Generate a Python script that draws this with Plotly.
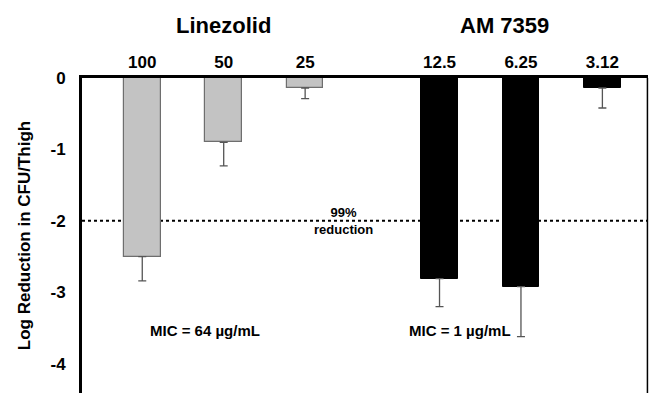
import plotly.graph_objects as go

# Data
groups = ["Linezolid", "AM 7359"]
linezolid_doses = ["100", "50", "25"]
linezolid_values = [-2.50, -0.90, -0.14]
linezolid_errors = [0.34, 0.33, 0.15]
am_doses = ["12.5", "6.25", "3.12"]
am_values = [-2.81, -2.92, -0.14]
am_errors = [0.39, 0.70, 0.28]
y_ticks = [0, -1, -2, -3, -4]
y_tick_labels = ["0", "-1", "-2", "-3", "-4"]
mic_labels = ["MIC = 64 µg/mL", "MIC = 1 µg/mL"]
threshold = -2
threshold_label = "99%<br>reduction"

group_gap = 0.65
x_lz = [i for i in range(len(linezolid_doses))]
x_am = [len(linezolid_doses) + group_gap + i for i in range(len(am_doses))]

FONT = "Liberation Sans, Arial, sans-serif"

fig = go.Figure()
fig.add_trace(go.Bar(
    x=x_lz, y=linezolid_values, width=0.45,
    marker=dict(color="#c3c3c3", line=dict(color="#6e6e6e", width=1.2)),
    error_y=dict(type="data", symmetric=False, array=[0] * 3, arrayminus=linezolid_errors,
                 color="#555555", thickness=1.3, width=4),
    showlegend=False,
))
fig.add_trace(go.Bar(
    x=x_am, y=am_values, width=0.45,
    marker=dict(color="black", line=dict(color="black", width=1)),
    error_y=dict(type="data", symmetric=False, array=[0] * 3, arrayminus=am_errors,
                 color="#555555", thickness=1.3, width=4),
    showlegend=False,
))

# threshold line
fig.add_shape(type="line", xref="paper", x0=0, x1=1, yref="y", y0=threshold, y1=threshold,
              line=dict(color="black", width=2, dash="dot"), layer="below")
# right border
fig.add_shape(type="line", xref="paper", x0=0.999, x1=0.999, yref="paper", y0=0, y1=1,
              line=dict(color="black", width=1.5))

fig.add_annotation(x=2.47, y=threshold, text=threshold_label, showarrow=False,
                   font=dict(family=FONT, size=13, color="black", weight="bold"),
                   xanchor="center", yanchor="middle")

# group headers
fig.add_annotation(x=sum(x_lz) / 3, y=1, yref="paper", yshift=53, yanchor="middle",
                   text=groups[0], showarrow=False,
                   font=dict(family=FONT, size=22, color="black", weight="bold"))
fig.add_annotation(x=sum(x_am) / 3 - 0.2, y=1, yref="paper", yshift=53, yanchor="middle",
                   text=groups[1], showarrow=False,
                   font=dict(family=FONT, size=22, color="black", weight="bold"))

# MIC labels
fig.add_annotation(x=0.77, y=-3.54, text=mic_labels[0], showarrow=False,
                   font=dict(family=FONT, size=15, color="black", weight="bold"))
fig.add_annotation(x=3.9, y=-3.54, text=mic_labels[1], showarrow=False,
                   font=dict(family=FONT, size=15, color="black", weight="bold"))

fig.update_layout(
    width=650, height=393,
    margin=dict(l=82, r=2, t=78, b=0, autoexpand=False),
    plot_bgcolor="white", paper_bgcolor="white",
    bargap=0,
    font=dict(family=FONT, color="black"),
    xaxis=dict(
        side="top", range=[-0.74, 6.21], automargin=False,
        tickvals=x_lz + x_am, ticktext=linezolid_doses + am_doses,
        showline=True, linecolor="black", linewidth=3,
        showgrid=False, zeroline=False, ticks="",
        tickfont=dict(family=FONT, size=17, color="black", weight="bold"),
    ),
    yaxis=dict(
        range=[-4.41, 0], tickvals=y_ticks, ticktext=y_tick_labels, automargin=False,
        showline=True, linecolor="black", linewidth=3,
        showgrid=False, zeroline=False, ticks="", ticklabelstandoff=10,
        tickfont=dict(family=FONT, size=17, color="black", weight="bold"),
        title=dict(text="Log Reduction in CFU/Thigh", standoff=16,
                   font=dict(family=FONT, size=17, color="black", weight="bold")),
    ),
)

fig.write_html("out.html", post_script="document.body.style.margin='0';",
               config={"displayModeBar": False})
